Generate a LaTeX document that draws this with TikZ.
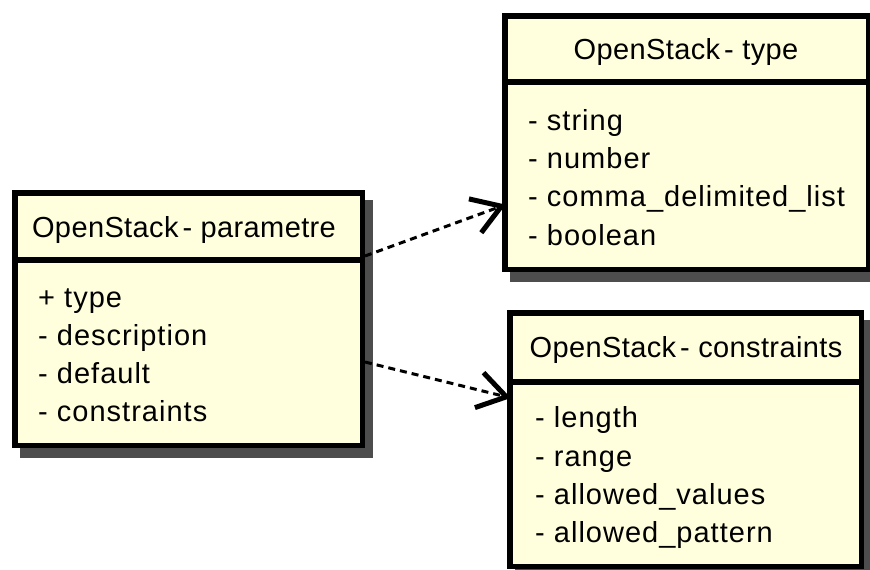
\documentclass[tikz,border=0pt]{standalone}
\usepackage{fontspec}
\setmainfont{Liberation Sans}[LetterSpace=3.5]
\newfontfamily\titlefont{Liberation Sans}[LetterSpace=1.3]
\usetikzlibrary{arrows.meta}
\definecolor{cream}{RGB}{255,255,221}
\definecolor{shade}{RGB}{77,77,77}
\newcommand{\nsp}{\hspace{0.14em}}
\begin{document}
\begin{tikzpicture}[x=1pt,y=-1pt,
  cls/.style={draw=black, fill=cream, line width=5.5pt, rectangle, anchor=north west, inner sep=0pt},
  sepline/.style={line width=5.5pt},
  ttl/.style={anchor=base, font=\titlefont\fontsize{29}{34}\selectfont, inner sep=0pt},
  itm/.style={anchor=base west, font=\fontsize{29}{34}\selectfont, inner sep=0pt},
  dep/.style={line width=3pt, dash pattern=on 7pt off 5pt, shorten >=-4pt,
    -{Straight Barb[length=28pt,width=36pt,line width=5pt,sharp]}},
  shadowbox/.style={fill=shade}]
\useasboundingbox (0,0) rectangle (870,570);
% shadows
\fill[shadowbox] (20,200) rectangle (373,458);
\fill[shadowbox] (510,23) rectangle (879,282);
\fill[shadowbox] (515,320) rectangle (872,579);
% boxes
\node[cls, minimum width=347.5pt, minimum height=252.5pt] (p) at (12,190) {};
\node[cls, minimum width=363.5pt, minimum height=253.5pt] (t) at (502,13) {};
\node[cls, minimum width=351.5pt, minimum height=253.5pt] (c) at (507,310) {};
\draw[sepline] (p.west |- 0,260) -- (p.east |- 0,260);
\draw[sepline] (t.west |- 0,82) -- (t.east |- 0,82);
\draw[sepline] (c.west |- 0,382) -- (c.east |- 0,382);
% parametre
\node[ttl] (pt) at (184,237) {OpenStack\nsp- parametre};
\node[itm] (p1) at (38,307) {+ type};
\node[itm] (p2) at (38,345) {- description};
\node[itm] (p3) at (38,383) {- default};
\node[itm] (p4) at (38,421) {- constraints};
% type
\node[ttl] (tt) at (686,59) {OpenStack\nsp- type};
\node[itm] (t1) at (528,130) {- string};
\node[itm] (t2) at (528,168) {- number};
\node[itm] (t3) at (528,206) {- comma\_delimited\_list};
\node[itm] (t4) at (528,245) {- boolean};
% constraints
\node[ttl] (ct) at (686,357) {OpenStack\nsp- constraints};
\node[itm] (c1) at (535,427) {- length};
\node[itm] (c2) at (535,466) {- range};
\node[itm] (c3) at (535,504) {- allowed\_values};
\node[itm] (c4) at (535,542) {- allowed\_pattern};
% connectors
\draw[dep] (p.east |- 0,256) -- (t.west |- 0,206);
\draw[dep] (p.east |- 0,362) -- (c.west |- 0,397);
\end{tikzpicture}
\end{document}
